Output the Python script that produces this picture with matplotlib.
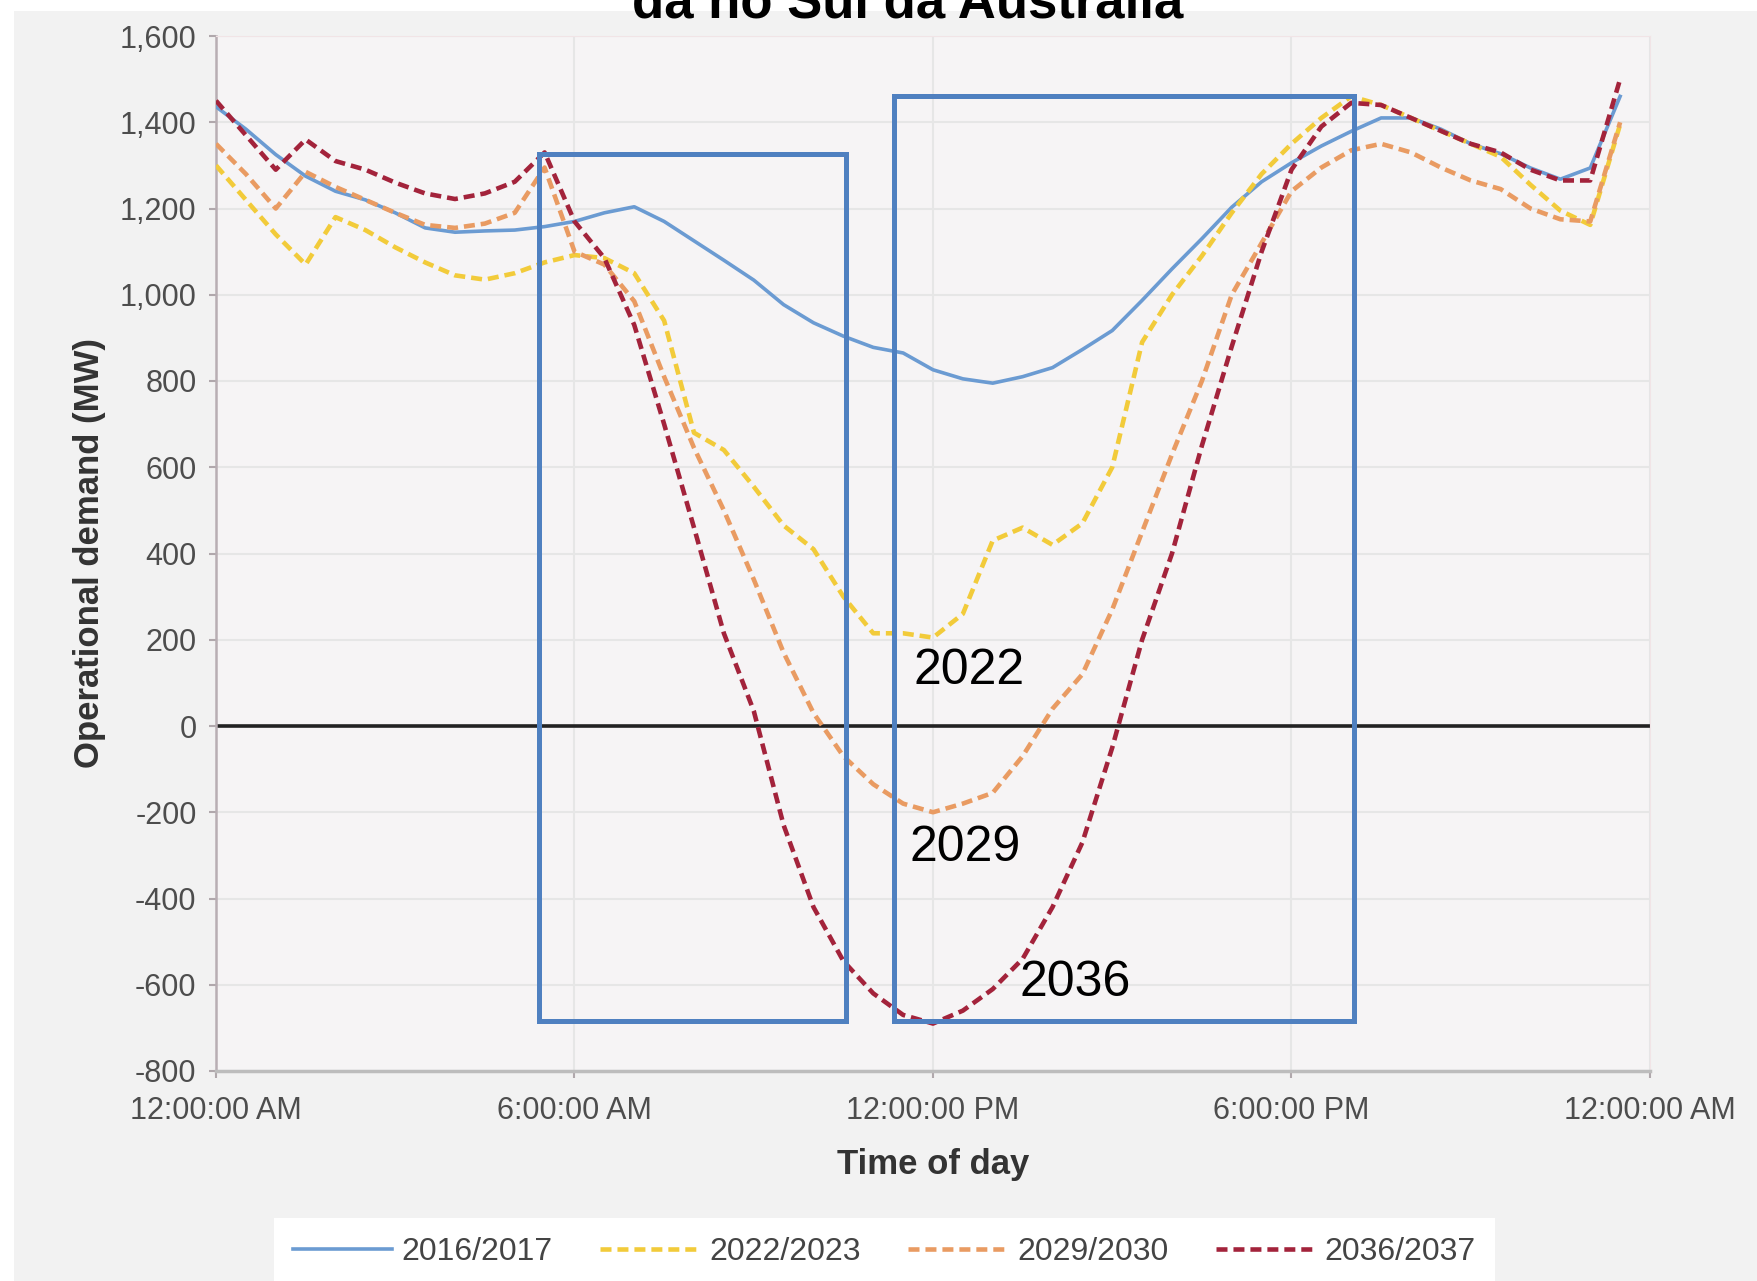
import matplotlib.pyplot as plt
import numpy as np
from matplotlib.patches import Rectangle
from matplotlib.ticker import FuncFormatter

plt.rcParams["font.family"] = ["Liberation Sans", "DejaVu Sans"]

# half-hourly time of day (hours)
hours = np.arange(48) * 0.5

demand_2016 = [1436, 1384, 1325, 1275, 1240, 1220, 1190, 1155, 1145, 1148, 1150, 1158,
               1170, 1190, 1204, 1170, 1125, 1080, 1034, 977, 935, 904, 878, 865,
               826, 805, 795, 810, 831, 873, 917, 987, 1060, 1130, 1203, 1262,
               1306, 1345, 1379, 1410, 1410, 1384, 1350, 1327, 1294, 1268, 1294, 1460]
demand_2022 = [1300, 1220, 1140, 1070, 1180, 1150, 1110, 1075, 1045, 1035, 1050, 1075,
               1092, 1085, 1050, 940, 680, 640, 555, 465, 410, 300, 215, 215,
               205, 260, 430, 460, 420, 470, 600, 890, 1000, 1090, 1190, 1280,
               1350, 1410, 1460, 1440, 1410, 1380, 1350, 1320, 1255, 1195, 1162, 1395]
demand_2029 = [1350, 1280, 1200, 1285, 1250, 1220, 1190, 1162, 1155, 1165, 1190, 1295,
               1100, 1070, 985, 810, 645, 500, 340, 170, 30, -70, -135, -180,
               -200, -180, -155, -70, 40, 120, 270, 450, 630, 800, 1000, 1120,
               1240, 1295, 1335, 1350, 1330, 1295, 1265, 1245, 1200, 1175, 1170, 1400]
demand_2036 = [1450, 1370, 1290, 1360, 1310, 1290, 1260, 1235, 1222, 1235, 1262, 1330,
               1170, 1085, 930, 700, 460, 215, 35, -230, -420, -545, -620, -670,
               -690, -660, -610, -540, -420, -270, -50, 200, 400, 650, 880, 1100,
               1290, 1390, 1445, 1440, 1410, 1380, 1350, 1330, 1290, 1265, 1265, 1500]

series = [
    ("2016/2017", demand_2016, "#6b9bd2", "-"),
    ("2022/2023", demand_2022, "#f2cb3a", "--"),
    ("2029/2030", demand_2029, "#e99b62", "--"),
    ("2036/2037", demand_2036, "#a3233b", "--"),
]

tick_hours = [0, 6, 12, 18, 24]
tick_labels = ["12:00:00 AM", "6:00:00 AM", "12:00:00 PM", "6:00:00 PM", "12:00:00 AM"]

fig = plt.figure(figsize=(17.58, 12.81), dpi=100, facecolor="white")
# grey screenshot panel behind the chart
fig.patches.append(Rectangle((14 / 1758, 0), 1, 1 - 11 / 1281, transform=fig.transFigure,
                             facecolor="#f2f2f2", edgecolor="none", zorder=-5))

ax = fig.add_axes([216 / 1758, 1 - 1071 / 1281, 1434 / 1758, 1035 / 1281])
ax.set_zorder(1)
ax.set_facecolor("#f6f4f5")

for name, ys, color, ls in series:
    if ls == "-":
        ax.plot(hours, ys, color=color, lw=2.6, label=name, zorder=3)
    else:
        ax.plot(hours, ys, color=color, lw=3.3, ls=(0, (2.4, 1.3)), label=name, zorder=3)

ax.axhline(0, color="#222222", lw=2.6, zorder=2)

ax.set_xlim(0, 24)
ax.set_ylim(-800, 1600)
ax.set_yticks(range(-800, 1601, 200))
ax.yaxis.set_major_formatter(FuncFormatter(lambda v, _: f"{v:,.0f}"))
ax.set_xticks(tick_hours)
ax.set_xticklabels(tick_labels)
ax.grid(True, color="#e6e6e6", lw=1.5, zorder=1)
ax.tick_params(axis="both", colors="#b0a8ac", labelcolor="#4d4d4d", labelsize=22, length=5, width=1.5)
ax.tick_params(axis="y", pad=9)
ax.tick_params(axis="x", pad=13)
for side in ("top", "right"):
    ax.spines[side].set_color("#f1e4e6")
ax.spines["left"].set_color("#b8aeb3")
ax.spines["left"].set_linewidth(1.8)
ax.spines["bottom"].set_color("#bdbdbd")
ax.spines["bottom"].set_linewidth(2.5)

ax.set_ylabel("Operational demand (MW)", fontsize=25, fontweight="bold", color="#333333", labelpad=10)
ax.set_xlabel("Time of day", fontsize=25, fontweight="bold", color="#333333", labelpad=16)

# highlight boxes
box_color = "#4f80c0"
ax.add_patch(Rectangle((5.4, -683), 5.14, 2010, fill=False, edgecolor=box_color, lw=3.6, zorder=5))
ax.add_patch(Rectangle((11.34, -683), 7.71, 2143, fill=False, edgecolor=box_color, lw=3.6, zorder=5))

ax.text(11.68, 127, "2022", fontsize=36, va="center", ha="left", zorder=6)
ax.text(11.6, -283, "2029", fontsize=36, va="center", ha="left", zorder=6)
ax.text(13.45, -597, "2036", fontsize=36, va="center", ha="left", zorder=6)

fig.text(0.516, 1 - 17 / 1281, "da no Sul da Austrália", fontsize=38, fontweight="bold",
         ha="center", va="baseline", zorder=10)

leg = fig.legend(loc="center", bbox_to_anchor=(0.503, 1 - 1252 / 1281), ncol=4, fontsize=23,
                 frameon=True, fancybox=False, framealpha=1, handlelength=3.1, columnspacing=1.5,
                 handletextpad=0.3, borderpad=0.6)
leg.get_frame().set_facecolor("white")
leg.get_frame().set_edgecolor("none")
for t in leg.get_texts():
    t.set_color("#444444")

fig.savefig("out.png", dpi=100)
